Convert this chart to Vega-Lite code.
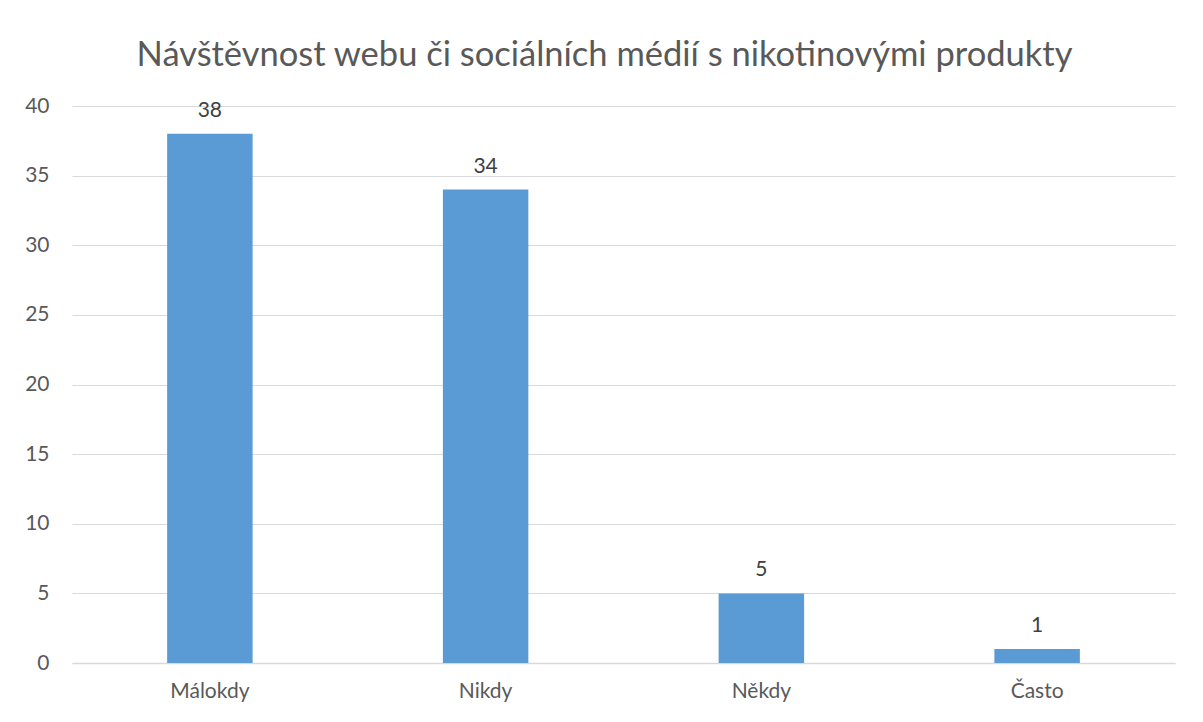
{
  "$schema": "https://vega.github.io/schema/vega-lite/v6.json",
  "autosize": "none",
  "width": 1103,
  "height": 557,
  "padding": {"left": 72, "top": 106, "right": 28, "bottom": 59},
  "background": "white",
  "title": {
    "text": "Návštěvnost webu či sociálních médií s nikotinovými produkty",
    "fontSize": 34.5,
    "font": "Lato",
    "fontWeight": "normal",
    "color": "#595959",
    "anchor": "middle",
    "dx": -19,
    "offset": 22
  },
  "data": {
    "values": [
      {"kategorie": "Málokdy", "pocet": 38},
      {"kategorie": "Nikdy", "pocet": 34},
      {"kategorie": "Někdy", "pocet": 5},
      {"kategorie": "Často", "pocet": 1}
    ]
  },
  "encoding": {
    "x": {
      "field": "kategorie",
      "type": "nominal",
      "sort": null,
      "scale": {"paddingInner": 0.69, "paddingOuter": 0.345},
      "axis": {
        "title": null,
        "labelAngle": 0,
        "labelFontSize": 21,
        "labelFont": "Lato",
        "labelColor": "#595959",
        "labelPadding": 17,
        "ticks": false,
        "domainColor": "#d9d9d9",
        "domainWidth": 1.5
      }
    },
    "y": {
      "field": "pocet",
      "type": "quantitative",
      "scale": {"domain": [0, 40]},
      "axis": {
        "title": null,
        "values": [0, 5, 10, 15, 20, 25, 30, 35, 40],
        "labelFontSize": 21,
        "labelFont": "Lato",
        "labelColor": "#595959",
        "labelPadding": 23,
        "ticks": false,
        "domain": false,
        "gridColor": "#d9d9d9",
        "gridWidth": 1.2
      }
    }
  },
  "layer": [
    {"mark": {"type": "bar", "color": "#5B9BD5"}},
    {
      "mark": {"type": "text", "baseline": "alphabetic", "dy": -17, "fontSize": 21, "font": "Lato", "color": "#404040"},
      "encoding": {"text": {"field": "pocet", "type": "quantitative"}}
    }
  ],
  "config": {"view": {"stroke": null}}
}
